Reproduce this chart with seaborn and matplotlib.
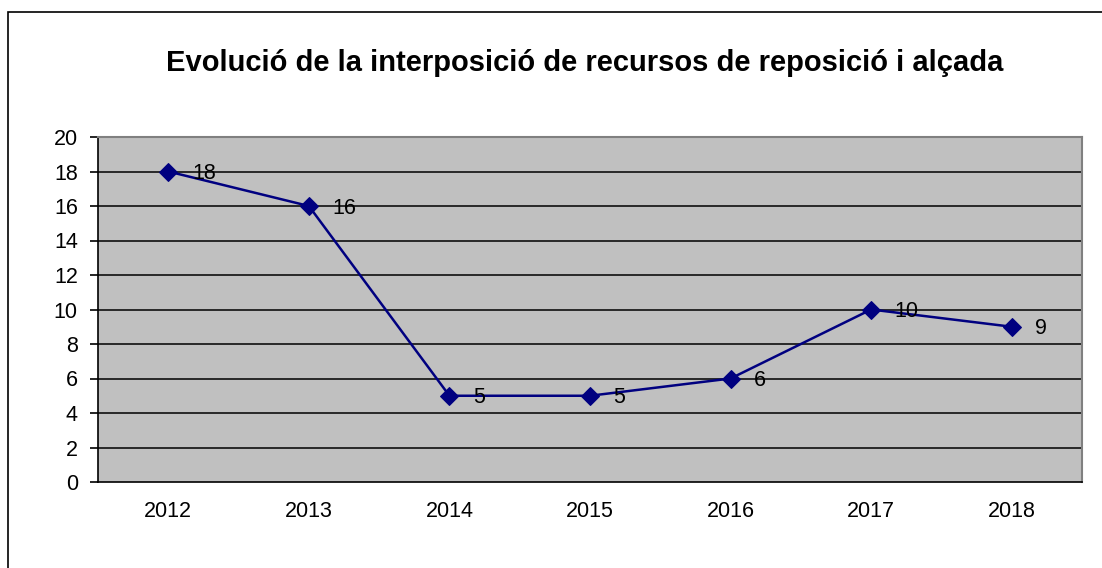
import matplotlib.pyplot as plt
import matplotlib.patches as mpatches
import seaborn as sns
import numpy as np
import pandas as pd

sns.set_style('white')
plt.rcParams['font.family'] = ['Liberation Sans', 'DejaVu Sans']
plt.rcParams['text.color'] = 'black'
plt.rcParams['xtick.color'] = 'black'
plt.rcParams['ytick.color'] = 'black'

years = ['2012', '2013', '2014', '2015', '2016', '2017', '2018']
values = [18, 16, 5, 5, 6, 10, 9]
y_ticks = [0, 2, 4, 6, 8, 10, 12, 14, 16, 18, 20]

df = pd.DataFrame({'year': years, 'value': values})

fig = plt.figure(figsize=(11.02, 5.68), dpi=100)
fig.patch.set_facecolor('white')
# chart outer border
fig.patches.append(mpatches.Rectangle((8 / 1102, -0.05), 1.2, (568 - 12) / 568 + 0.05,
                                      transform=fig.transFigure, fill=False,
                                      edgecolor='black', linewidth=1.2))

ax = fig.add_axes([98 / 1102, 86 / 568, 984 / 1102, 345 / 568])
ax.set_facecolor('#C0C0C0')

sns.lineplot(data=df, x='year', y='value', ax=ax, color='#000080', linewidth=1.8,
             marker='D', markersize=9, markeredgecolor='#000080', zorder=3, sort=False)

for i, v in enumerate(values):
    ax.annotate(str(v), (i, v), xytext=(17, -1.5), textcoords='offset points',
                ha='left', va='center', fontsize=15.5, color='black', zorder=4)

ax.set_xlim(-0.5, len(years) - 0.5)
ax.set_ylim(0, 20)
ax.set_yticks(y_ticks)
ax.set_yticklabels([str(t) for t in y_ticks], fontsize=15.5)
ax.set_xticks(range(len(years)))
ax.set_xticklabels(years, fontsize=15.5)
ax.tick_params(axis='x', which='major', length=0, pad=14)
ax.set_xticks(np.arange(-0.5, len(years), 1), minor=True)
ax.tick_params(axis='x', which='minor', length=6, width=1.2, color='black', direction='out')
ax.tick_params(axis='y', length=6, width=1.2, color='black', direction='out', pad=8.5, left=True)

for t in y_ticks[1:-1]:
    ax.axhline(t, color='black', linewidth=1.1, zorder=1)

ax.set_xlabel('')
ax.set_ylabel('')
ax.spines['left'].set_color('black')
ax.spines['bottom'].set_color('black')
ax.spines['left'].set_linewidth(1.2)
ax.spines['bottom'].set_linewidth(1.2)
ax.spines['top'].set_color('#808080')
ax.spines['right'].set_color('#808080')
ax.spines['top'].set_linewidth(1.5)
ax.spines['right'].set_linewidth(1.5)

fig.text(585 / 1102, 1 - 63 / 568, 'Evolució de la interposició de recursos de reposició i alçada',
         ha='center', va='center', fontsize=21, fontweight='bold', color='black')

fig.savefig('out.png', dpi=100)
